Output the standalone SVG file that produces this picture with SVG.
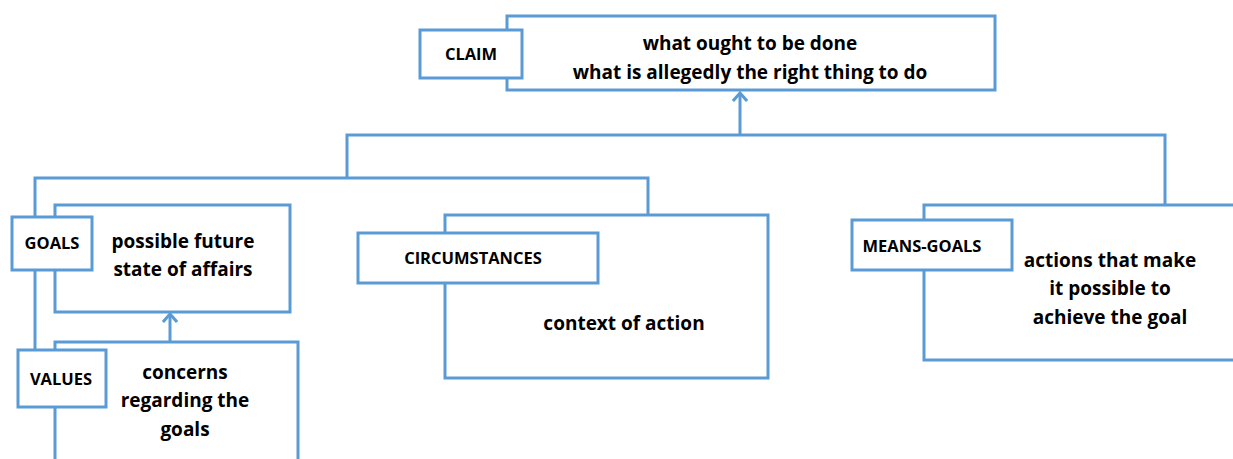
<svg xmlns="http://www.w3.org/2000/svg" width="1233" height="459" viewBox="0 0 1233 459">
<style>
.box{fill:#fff;stroke:#5b9bd5;stroke-width:3}
.ln{fill:none;stroke:#5b9bd5;stroke-width:3}
.t{font-family:"Open Sans","Liberation Sans",sans-serif;font-weight:bold;font-size:19px;fill:#000;text-anchor:middle}
.l{font-family:"Open Sans","Liberation Sans",sans-serif;font-weight:bold;font-size:16.5px;fill:#000;text-anchor:middle}
</style>
<defs>
<marker id="ah" markerWidth="16" markerHeight="16" refX="11" refY="8" orient="auto" markerUnits="userSpaceOnUse" viewBox="0 0 16 16">
<polyline points="3,1 11,8 3,15" fill="none" stroke="#5b9bd5" stroke-width="3"/>
</marker>
</defs>
<g id="connectors">
<line class="ln" x1="740" y1="135" x2="740" y2="93" marker-end="url(#ah)"/>
<polyline class="ln" points="347,178 347,135 1165,135 1165,205"/>
<polyline class="ln" points="35,217 35,178 648,178 648,215"/>
<line class="ln" x1="35" y1="270" x2="35" y2="350"/>
<line class="ln" x1="170" y1="342" x2="170" y2="314" marker-end="url(#ah)"/>
</g>
<g id="claim">
<rect class="box" x="507" y="16" width="488" height="74"/>
<rect class="box" x="420" y="30" width="102" height="48"/>
<text class="l" x="471" y="60">CLAIM</text>
<text class="t" x="750" y="50">what ought to be done</text>
<text class="t" x="750" y="79">what is allegedly the right thing to do</text>
</g>
<g id="goals">
<rect class="box" x="55" y="205" width="235" height="107"/>
<rect class="box" x="12" y="217" width="80" height="53"/>
<text class="l" x="52" y="249">GOALS</text>
<text class="t" x="183" y="248">possible future</text>
<text class="t" x="183" y="276">state of affairs</text>
</g>
<g id="values">
<rect class="box" x="55" y="342" width="243" height="130"/>
<rect class="box" x="18" y="350" width="88" height="57"/>
<text class="l" x="61" y="385">VALUES</text>
<text class="t" x="185" y="379">concerns</text>
<text class="t" x="185" y="407">regarding the</text>
<text class="t" x="185" y="436">goals</text>
</g>
<g id="circumstances">
<rect class="box" x="445" y="215" width="323" height="163"/>
<rect class="box" x="358" y="233" width="240" height="50"/>
<text class="l" x="473" y="264">CIRCUMSTANCES</text>
<text class="t" x="624" y="330">context of action</text>
</g>
<g id="means-goals">
<rect class="box" x="924" y="205" width="320" height="155"/>
<rect class="box" x="852" y="220" width="160" height="50"/>
<text class="l" x="922" y="252">MEANS-GOALS</text>
<text class="t" x="1110" y="267">actions that make</text>
<text class="t" x="1110" y="295">it possible to</text>
<text class="t" x="1110" y="324">achieve the goal</text>
</g>
</svg>
